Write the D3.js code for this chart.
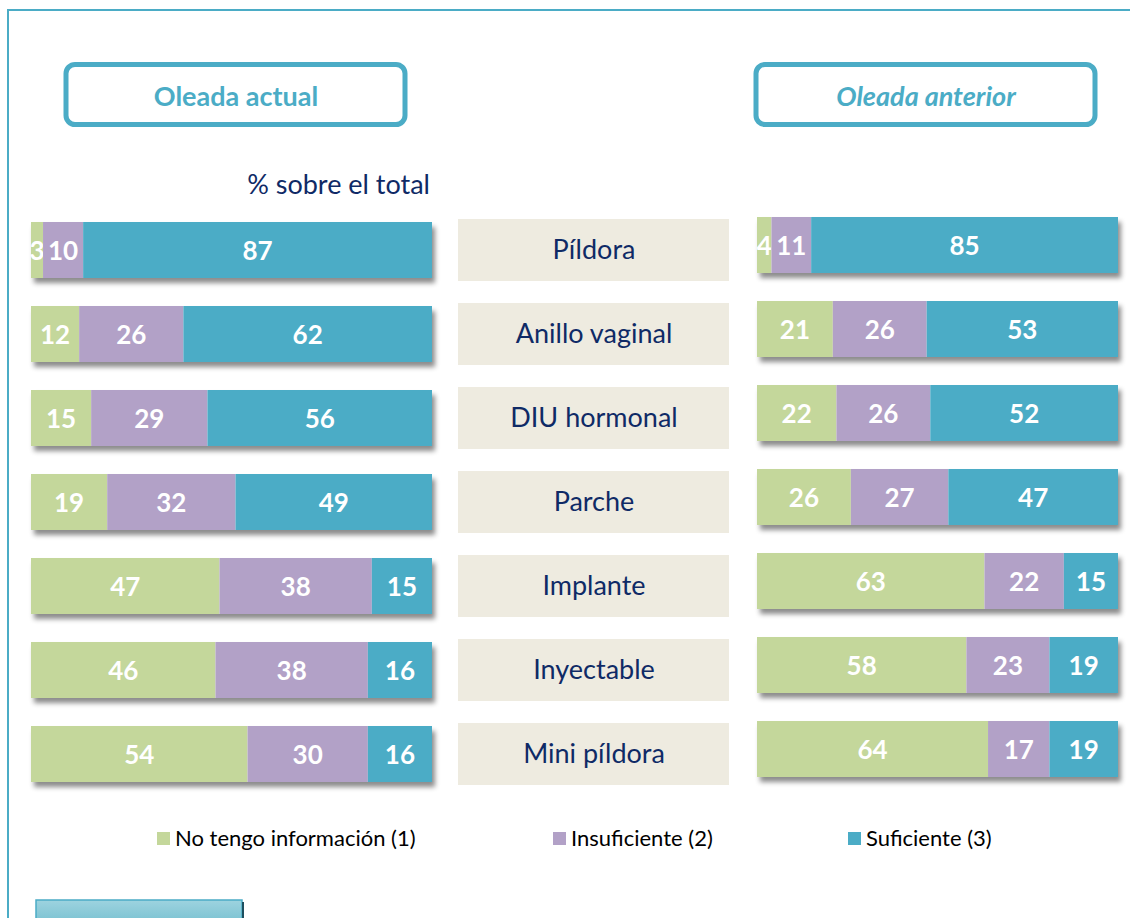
<!DOCTYPE html>
<html>
<head>
<meta charset="utf-8">
<script src="https://cdn.jsdelivr.net/npm/d3@7"></script>
<style>
  body { margin: 0; background: #fff; }
  svg { display: block; font-family: Lato, "Open Sans", sans-serif; }
</style>
</head>
<body>
<div id="chart"></div>
<script>
// data
const categories = ["Píldora", "Anillo vaginal", "DIU hormonal", "Parche", "Implante", "Inyectable", "Mini píldora"];
const seriesNames = ["No tengo información (1)", "Insuficiente (2)", "Suficiente (3)"];
const actualNoInfo = [3, 12, 15, 19, 47, 46, 54];
const actualInsuf  = [10, 26, 29, 32, 38, 38, 30];
const actualSuf    = [87, 62, 56, 49, 15, 16, 16];
const anteriorNoInfo = [4, 21, 22, 26, 63, 58, 64];
const anteriorInsuf  = [11, 26, 26, 27, 22, 23, 17];
const anteriorSuf    = [85, 53, 52, 47, 15, 19, 19];

const colors = ["#c4d79b", "#b2a1c7", "#4bacc6"];
const W = 1130, H = 918;

const svg = d3.select("#chart").append("svg")
    .attr("width", W).attr("height", H);

const defs = svg.append("defs");
defs.append("filter").attr("id", "shadow")
    .attr("x", "-5%").attr("y", "-20%").attr("width", "115%").attr("height", "160%")
  .append("feDropShadow")
    .attr("dx", 3).attr("dy", 5).attr("stdDeviation", 2.5)
    .attr("flood-color", "#000").attr("flood-opacity", 0.45);

const grad = defs.append("linearGradient").attr("id", "btn").attr("x1", 0).attr("y1", 0).attr("x2", 0).attr("y2", 1);
grad.append("stop").attr("offset", "0%").attr("stop-color", "#9dd3df");
grad.append("stop").attr("offset", "100%").attr("stop-color", "#6fbccd");

// outer frame
svg.append("path")
    .attr("d", `M8,${H} V10 H${W}`)
    .attr("fill", "none").attr("stroke", "#4bacc6").attr("stroke-width", 2);

// header boxes
function header(x, label, italic) {
  svg.append("rect").attr("x", x).attr("y", 64.5).attr("width", 339).attr("height", 60)
      .attr("rx", 9).attr("fill", "#fff").attr("stroke", "#4bacc6").attr("stroke-width", 5);
  svg.append("text").attr("x", x + 170).attr("y", 106)
      .attr("text-anchor", "middle").attr("fill", "#4bacc6")
      .attr("font-size", 27).attr("font-weight", "bold")
      .attr("font-style", italic ? "italic" : "normal")
      .text(label);
}
header(66, "Oleada actual", false);
header(756, "Oleada anterior", true);

svg.append("text").attr("x", 430).attr("y", 194).attr("text-anchor", "end")
    .attr("fill", "#0f2a66").attr("font-size", 27).text("% sobre el total");

function stackRows(a, b, c) {
  return categories.map((cat, i) => ({cat, values: [a[i], b[i], c[i]]}));
}

function drawPanel(rows, x0, x1, yTop) {
  const x = d3.scaleLinear().domain([0, 100]).range([x0, x1]);
  const y = d3.scaleBand().domain(categories).range([yTop, yTop + 6 * 84 + 56])
      .paddingInner(1 / 3).paddingOuter(0);
  const stack = d3.stack().keys([0, 1, 2]).value((d, k) => d.values[k]);
  const layers = stack(rows);

  const g = svg.append("g");
  g.selectAll("rect.sh").data(rows).join("rect")
      .attr("x", x(0)).attr("y", d => y(d.cat))
      .attr("width", x(100) - x(0)).attr("height", y.bandwidth())
      .attr("fill", "#fff").attr("filter", "url(#shadow)");

  layers.forEach((layer, k) => {
    g.selectAll(null).data(layer).join("rect")
        .attr("x", d => x(d[0])).attr("y", d => y(d.data.cat))
        .attr("width", d => x(d[1]) - x(d[0])).attr("height", y.bandwidth())
        .attr("fill", colors[k]);
    g.selectAll(null).data(layer).join("text")
        .attr("x", d => (x(d[0]) + x(d[1])) / 2)
        .attr("y", d => y(d.data.cat) + y.bandwidth() / 2 + 10)
        .attr("text-anchor", "middle").attr("fill", "#fff")
        .attr("font-size", 26).attr("font-weight", "bold")
        .text(d => d[1] - d[0]);
  });
  return y;
}

const yLeft = drawPanel(stackRows(actualNoInfo, actualInsuf, actualSuf), 31, 432, 222);
drawPanel(stackRows(anteriorNoInfo, anteriorInsuf, anteriorSuf), 757, 1118, 217);

// category labels
const lab = svg.append("g");
lab.selectAll("rect").data(categories).join("rect")
    .attr("x", 458).attr("y", d => yLeft(d) + yLeft.bandwidth() / 2 - 31)
    .attr("width", 271).attr("height", 62).attr("fill", "#eeebe0");
lab.selectAll("text").data(categories).join("text")
    .attr("x", 594).attr("y", d => yLeft(d) + yLeft.bandwidth() / 2 + 9)
    .attr("text-anchor", "middle").attr("fill", "#0f2a66").attr("font-size", 27)
    .text(d => d);

// legend
const legX = [157, 553, 848];
const leg = svg.append("g");
seriesNames.forEach((s, i) => {
  leg.append("rect").attr("x", legX[i]).attr("y", 832).attr("width", 13).attr("height", 13).attr("fill", colors[i]);
  leg.append("text").attr("x", legX[i] + 18).attr("y", 846).attr("font-size", 22).attr("fill", "#000").text(s);
});

// bottom-left button
svg.append("rect").attr("x", 36).attr("y", 900).attr("width", 206).attr("height", 30)
    .attr("fill", "url(#btn)").attr("stroke", "#4bacc6").attr("stroke-width", 1.5);
svg.append("line").attr("x1", 243).attr("x2", 243).attr("y1", 902).attr("y2", 918)
    .attr("stroke", "#1d4e5e").attr("stroke-width", 2);
</script>
</body>
</html>
